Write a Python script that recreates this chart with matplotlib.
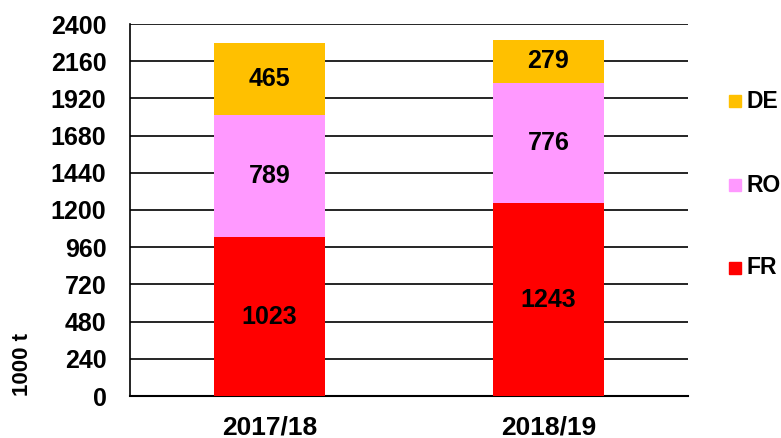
import numpy as np
import matplotlib.pyplot as plt

plt.rcParams['font.family'] = ['Liberation Sans', 'DejaVu Sans']
plt.rcParams['font.weight'] = 'bold'

# data
years = ['2017/18', '2018/19']
fr = [1023, 1243]
ro = [789, 776]
de = [465, 279]
yticks = np.arange(0, 2401, 240)

fig = plt.figure(figsize=(7.81, 4.38), dpi=100)
ax = fig.add_axes([130 / 781, 1 - 396 / 438, 558 / 781, 372 / 438])

x = np.arange(len(years))
w = 0.4
b1 = ax.bar(x, fr, w, color='#FF0000', label='FR', zorder=3)
b2 = ax.bar(x, ro, w, bottom=fr, color='#FF99FF', label='RO', zorder=3)
b3 = ax.bar(x, de, w, bottom=np.add(fr, ro), color='#FFC000', label='DE', zorder=3)

for bars in (b1, b2, b3):
    ax.bar_label(bars, label_type='center', fontsize=18, fontweight='bold')

ax.set_xlim(-0.5, 1.5)
ax.set_ylim(0, 2400)
ax.set_yticks(yticks)
ax.set_xticks(x)
ax.set_xticklabels(years)
ax.tick_params(axis='both', length=0, labelsize=18)
ax.tick_params(axis='y', pad=17)
ax.tick_params(axis='x', pad=14, labelsize=19)
ax.yaxis.grid(True, color='black', linewidth=1.2, zorder=0)
for s in ['top', 'right']:
    ax.spines[s].set_visible(False)
ax.spines['left'].set_linewidth(1.2)
ax.spines['bottom'].set_linewidth(1.5)

fig.text(22 / 781, 1 - 364 / 438, '1000 t', rotation=90, fontsize=16,
         fontweight='bold', ha='center', va='center')

# legend
for lab, col, yy in [('DE', '#FFC000', 101), ('RO', '#FF99FF', 185), ('FR', '#FF0000', 268)]:
    fig.patches.append(plt.Rectangle((729 / 781, 1 - (yy + 6) / 438), 12 / 781, 12 / 438,
                                     transform=fig.transFigure, color=col, figure=fig))
    fig.text(746 / 781, 1 - yy / 438, lab, fontsize=16.5, fontweight='bold',
             ha='left', va='center')

fig.savefig('out.png', dpi=100)
